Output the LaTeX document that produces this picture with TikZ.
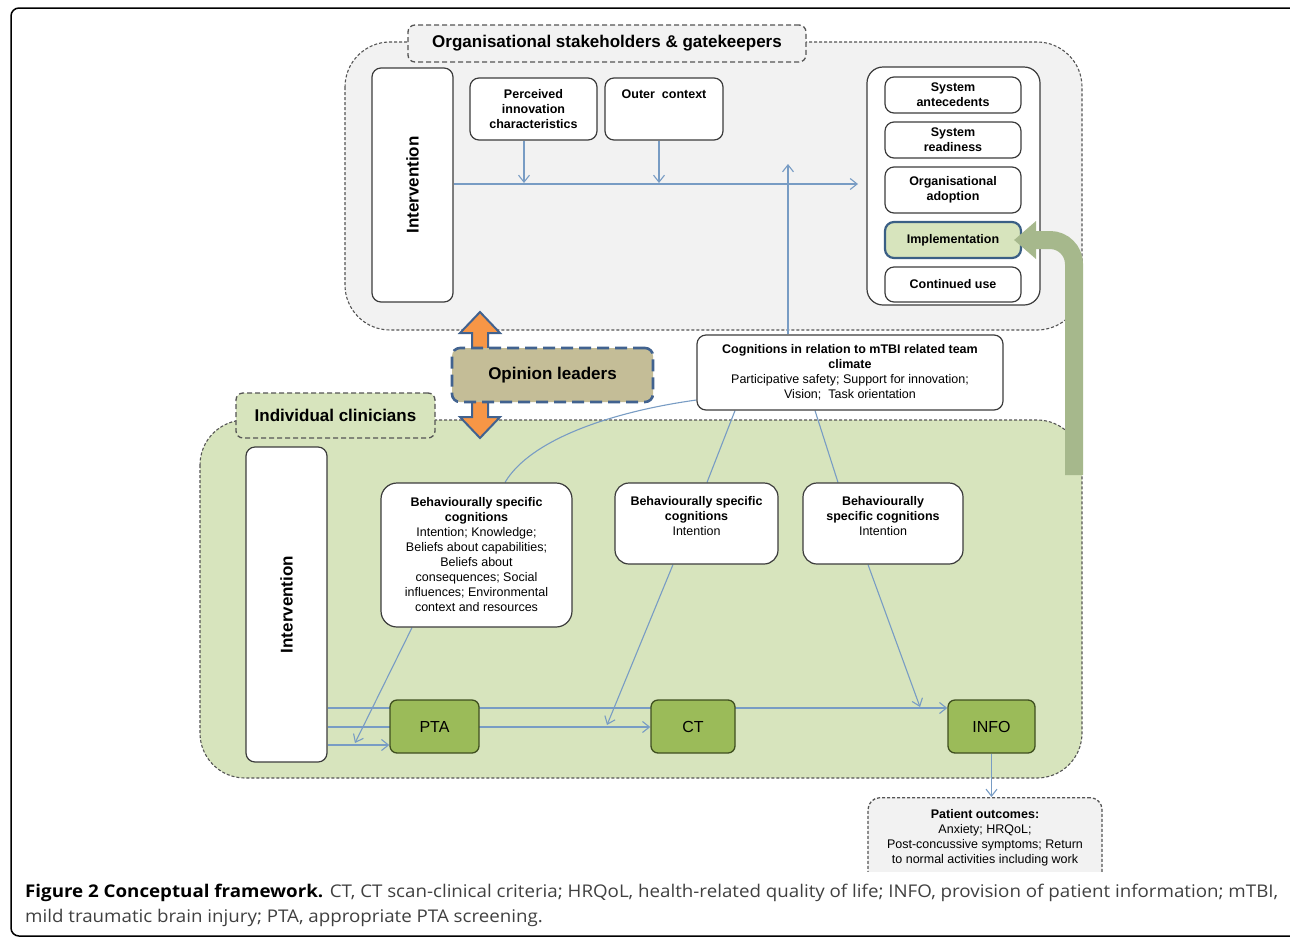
\documentclass[tikz,border=0pt]{standalone}
\usepackage{fontspec}
\setmainfont{Liberation Sans}
\newfontfamily\capfam{Open Sans}
\usetikzlibrary{arrows.meta,calc}
\pgfdeclarelayer{bg}\pgfdeclarelayer{lines}
\pgfsetlayers{bg,lines,main}
\newlength\capw
\newcommand\capfont{\capfam\fontsize{17.5}{20}\selectfont}
\newcommand\smfont{\fontsize{12.5}{15}\selectfont}
\newcommand\lblfont{\fontsize{17}{20}\selectfont\bfseries}
\definecolor{graybg}{RGB}{242,242,242}
\definecolor{greenbg}{RGB}{215,228,189}
\definecolor{dashc}{RGB}{85,85,85}
\definecolor{boxc}{RGB}{60,60,60}
\definecolor{tanc}{RGB}{196,189,151}
\definecolor{bluedash}{RGB}{65,98,143}
\definecolor{orangec}{RGB}{247,150,70}
\definecolor{ptag}{RGB}{155,187,89}
\definecolor{ptab}{RGB}{63,79,32}
\definecolor{implb}{RGB}{58,95,133}
\definecolor{arrc}{RGB}{120,156,196}
\definecolor{gbar}{RGB}{166,184,140}
\definecolor{captxt}{RGB}{64,64,64}
\begin{document}
\settowidth\capw{\capfont\textbf{Figure 2 Conceptual framework.} CT, CT scan-clinical criteria; HRQoL, health-related quality of life; INFO, provision of patient information; mTBI,}%
\pgfmathsetmacro\capsc{1253/\capw}%
\begin{tikzpicture}[x=1pt,y=-1pt,
  region/.style={draw=dashc, dash pattern=on 3pt off 2pt, line width=1.1pt, rounded corners=45pt},
  tab/.style={draw=dashc, dash pattern=on 5pt off 3pt, line width=1.3pt, rounded corners=7pt, font=\lblfont, inner sep=0pt},
  box/.style={draw=boxc, line width=1.2pt, fill=white, rounded corners=9pt, align=center, inner sep=0pt, font=\smfont},
  intbox/.style={draw=boxc, line width=1.2pt, fill=white, rounded corners=9pt, inner sep=0pt},
  gbox/.style={draw=ptab, line width=1.3pt, fill=ptag, rounded corners=7pt, inner sep=0pt, font=\fontsize{16}{18}\selectfont},
  arr/.style={draw=arrc, line width=1.1pt, -{Straight Barb[length=7pt,width=11pt]}},
  link/.style={draw=arrc, line width=1.1pt}
]
\useasboundingbox (0,0) rectangle (1290,938);

% background and regions
\begin{pgfonlayer}{bg}
\fill[white] (0,0) rectangle (1290,938);
\draw[region, fill=graybg] (345,42) rectangle (1082,330);
\draw[region, fill=greenbg] (200,420) rectangle (1082,778);
\end{pgfonlayer}

% outer frame
\draw[line width=1.5pt, rounded corners=8pt] (1300,8) -- (11,8) -- (11,936) -- (1300,936);

% tabs
\node[tab, fill=graybg, minimum width=398pt, minimum height=37pt] (torg) at (607,43.5) {Organisational stakeholders \& gatekeepers};
\node[tab, fill=greenbg, minimum width=199pt, minimum height=45pt] (tind) at (335.5,415.5) {Individual clinicians};

% upper region boxes
\node[intbox, minimum width=81pt, minimum height=234pt] (int1) at (412.5,185) {};
\node[rotate=90, font=\lblfont] (int1t) at (int1.center) {Intervention};
\node[box, minimum width=127pt, minimum height=62pt] (perc) at (533.5,109) {\textbf{Perceived}\\\textbf{innovation}\\\textbf{characteristics}};
\node[box, minimum width=118pt, minimum height=62pt] (outer) at (664,109) {\textbf{Outer~ context}\\\mbox{}\\\mbox{}};

\node[box, rounded corners=16pt, minimum width=173pt, minimum height=238pt] (stack) at (953.5,186) {};
\node[box, minimum width=136pt, minimum height=36pt] (sa) at (953,95) {\textbf{System}\\\textbf{antecedents}};
\node[box, minimum width=136pt, minimum height=36pt] (sr) at (953,140) {\textbf{System}\\\textbf{readiness}};
\node[box, minimum width=136pt, minimum height=46pt] (oa) at (953,190) {\textbf{Organisational}\\\textbf{adoption}};
\node[box, fill=greenbg, draw=implb, line width=2.2pt, minimum width=136pt, minimum height=36pt] (impl) at (953,240) {\textbf{Implementation}};
\node[box, minimum width=136pt, minimum height=35pt] (cu) at (953,284.5) {\textbf{Continued use}};

% opinion leaders double arrow
\filldraw[fill=orangec, draw=bluedash, line width=2pt, line join=miter]
  (480,312) -- (500,333) -- (488,333) -- (488,417) -- (500,417) -- (480,438)
  -- (460,417) -- (472,417) -- (472,333) -- (460,333) -- cycle;
\node[draw=bluedash, line width=2.6pt, dash pattern=on 12pt off 6pt, fill=tanc, rounded corners=8pt,
  minimum width=201pt, minimum height=54pt, inner sep=0pt, font=\lblfont] (opl) at (552.5,375) {Opinion leaders};

\node[box, minimum width=306pt, minimum height=75pt] (cog) at (850,372.5)
  {\textbf{Cognitions in relation to mTBI related team}\\\textbf{climate}\\Participative safety; Support for innovation;\\Vision;~ Task orientation};

% lower region boxes
\node[intbox, minimum width=81pt, minimum height=315pt] (int2) at (286.5,604.5) {};
\node[rotate=90, font=\lblfont] (int2t) at (int2.center) {Intervention};
\node[box, rounded corners=16pt, minimum width=191pt, minimum height=144pt] (bsc1) at (476.5,555)
  {\textbf{Behaviourally specific}\\\textbf{cognitions}\\Intention; Knowledge;\\Beliefs about capabilities;\\Beliefs about\\consequences; Social\\influences; Environmental\\context and resources};
\node[box, rounded corners=14pt, minimum width=163pt, minimum height=81pt] (bsc2) at (696.5,523.5)
  {\textbf{Behaviourally specific}\\\textbf{cognitions}\\Intention\\\mbox{}};
\node[box, rounded corners=14pt, minimum width=160pt, minimum height=81pt] (bsc3) at (883,523.5)
  {\textbf{Behaviourally}\\\textbf{specific cognitions}\\Intention\\\mbox{}};
\node[gbox, minimum width=89pt, minimum height=53pt] (pta) at (434.5,726.5) {PTA};
\node[gbox, minimum width=84pt, minimum height=53pt] (ct) at (693,726.5) {CT};
\node[gbox, minimum width=87pt, minimum height=53pt] (info) at (991.5,726.5) {INFO};

% patient outcomes (cut off at bottom)
\begin{scope}
\clip (0,0) rectangle (1290,871);
\node[box, fill=graybg, draw=dashc, dash pattern=on 3pt off 2pt, line width=1.3pt, rounded corners=12pt,
  minimum width=234pt, minimum height=92pt, anchor=north] (pout) at (985,797)
  {\textbf{Patient outcomes:}\\Anxiety; HRQoL;\\Post-concussive symptoms; Return\\to normal activities including work\\\mbox{}};
\end{scope}

% green feedback arrow
\draw[gbar, line width=18pt, rounded corners=24pt] (1074,475) -- (1074,240) -- (1034,240);
\fill[gbar] (1036,221) -- ($(impl.east)+(-8,0)$) -- (1036,259) -- cycle;

% free ends
\coordinate (hend) at (858,184);
\coordinate (vend) at (788,164);
\coordinate (b1end) at (355,743);
\coordinate (b2end) at (607,725);
\coordinate (b3end) at (920,707);

\begin{pgfonlayer}{lines}
\draw[arr] (int1.east |- 0,184) -- (hend);
\draw[arr] (perc.south -| 524,0) -- (524,183);
\draw[arr] (outer.south -| 659,0) -- (659,183);
\draw[arr] (cog.north -| 788,0) -- (vend);
\draw[link] (cog.south -| 735,0) -- (bsc2.north -| 707,0);
\draw[link] (cog.south -| 815,0) -- (bsc3.north -| 838,0);
\draw[link] (cog.west |- 0,400) .. controls (610,412) and (530,440) .. (bsc1.north -| 505,0);
\draw[arr] (bsc1.south -| 412,0) -- (b1end);
\draw[arr] (bsc2.south -| 673,0) -- (b2end);
\draw[arr] (bsc3.south -| 868,0) -- (b3end);
\draw[arr] (int2.east |- 0,745) -- (pta.west |- 0,745);
\draw[arr] (int2.east |- 0,727) -- (ct.west |- 0,727);
\draw[arr] (int2.east |- 0,708) -- (info.west |- 0,708);
\draw[arr] (info.south) -- (info.south |- pout.north);
\end{pgfonlayer}

% caption
\node[anchor=base west, inner sep=0pt, text=captxt] (cap1) at (25,897)
  {\scalebox{\capsc}[1]{\capfont\textcolor{black}{\textbf{Figure 2 Conceptual framework.}} CT, CT scan-clinical criteria; HRQoL, health-related quality of life; INFO, provision of patient information; mTBI,}};
\node[anchor=base west, inner sep=0pt, text=captxt] (cap2) at (25,922)
  {\scalebox{\capsc}[1]{\capfont mild traumatic brain injury; PTA, appropriate PTA screening.}};
\end{tikzpicture}
\end{document}
